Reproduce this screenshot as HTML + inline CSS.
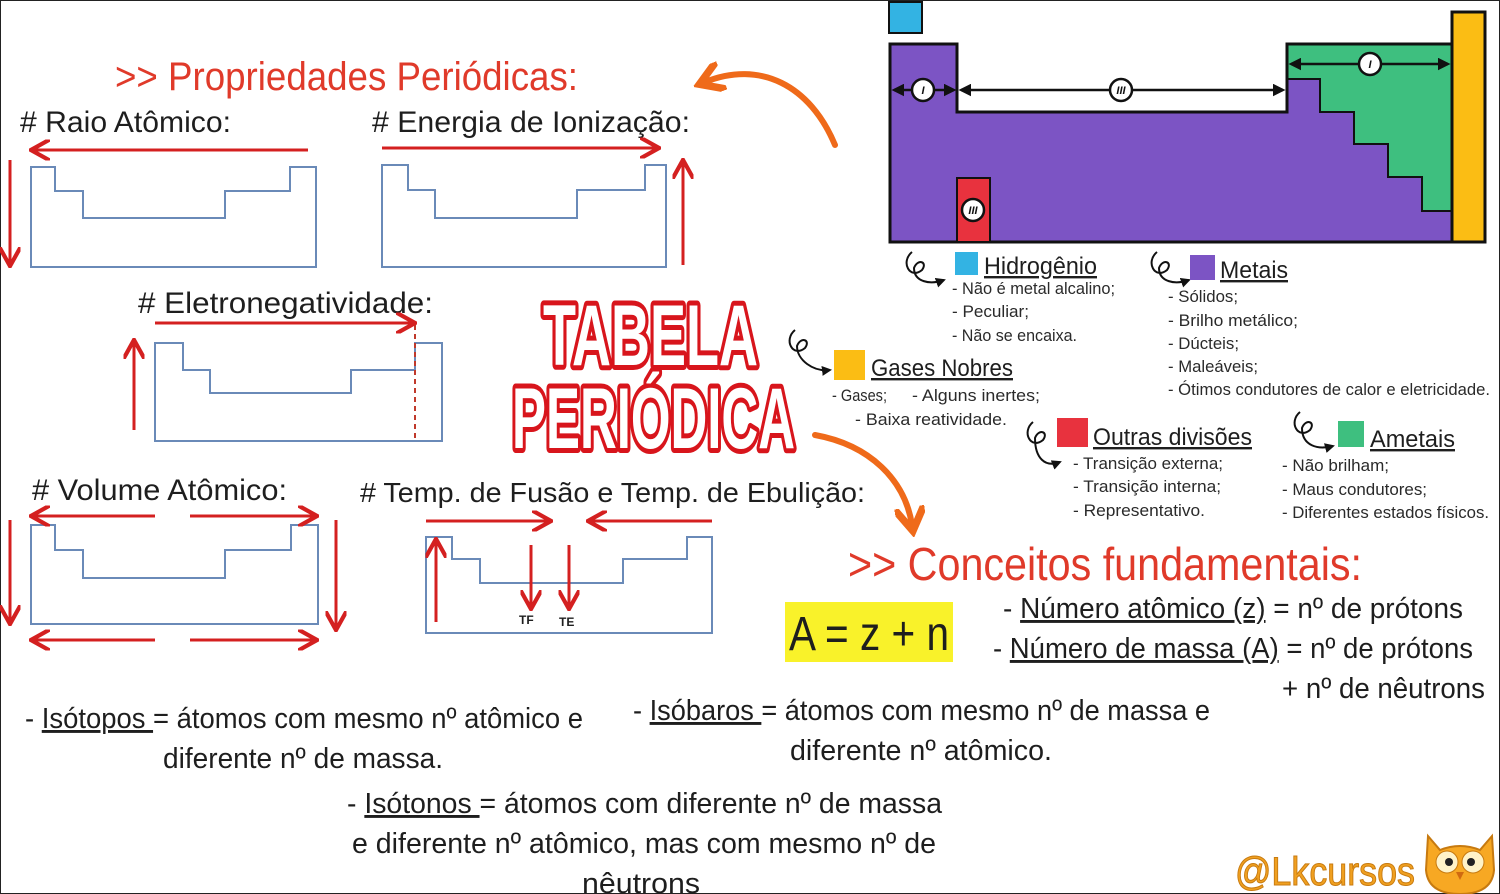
<!DOCTYPE html>
<html><head><meta charset="utf-8"><style>
html,body{margin:0;padding:0;background:#fff}
svg{display:block}
text{font-family:"Liberation Sans",sans-serif}
.t{fill:#1e1e1e}
.r{fill:#e03a2a}
.s{font-size:17px;fill:#2a2a2a}
</style></head><body>
<svg width="1500" height="894" viewBox="0 0 1500 894" xmlns="http://www.w3.org/2000/svg">
<defs>
<marker id="ah" viewBox="0 0 10 10" refX="8" refY="5" markerWidth="7" markerHeight="7" orient="auto-start-reverse"><path d="M0,0 L9,5 L0,10" fill="none" stroke="#d42020" stroke-width="2"/></marker>
<marker id="bh" viewBox="0 0 10 10" refX="8" refY="5" markerWidth="5" markerHeight="5" orient="auto-start-reverse"><path d="M0,0 L10,5 L0,10 Z" fill="#111"/></marker>
<marker id="oh" viewBox="0 0 10 10" refX="6" refY="5" markerWidth="5" markerHeight="5" orient="auto"><path d="M0,0 L8,5 L0,10" fill="none" stroke="#ef6a1a" stroke-width="2.5"/></marker>
</defs>
<rect x="0.5" y="0.5" width="1499" height="893" fill="#fff" stroke="#222" stroke-width="1"/>

<!-- periodic table -->
<rect x="889" y="2" width="33" height="31" fill="#33b3e3" stroke="#111" stroke-width="2"/>
<path d="M890,44 H957 V112 H1287 V44 H1452 V242 H890 Z" fill="#7c54c4" stroke="#111" stroke-width="3"/>
<path d="M1287,44 H1452 V211 H1422 V177 H1388 V144 H1354 V112 H1320 V79 H1287 Z" fill="#3ebf7f"/>
<path d="M1287,79 H1320 V112 H1354 V144 H1388 V177 H1422 V211 H1452" fill="none" stroke="#111" stroke-width="2"/>
<path d="M1287,112 V44 H1452 V242" fill="none" stroke="#111" stroke-width="3"/>
<rect x="1452" y="12" width="33" height="230" fill="#fbbd14" stroke="#111" stroke-width="3"/>
<rect x="957" y="178" width="33" height="64" fill="#e8323e" stroke="#111" stroke-width="2"/>
<line x1="894" y1="90" x2="954" y2="90" stroke="#111" stroke-width="2.5" marker-start="url(#bh)" marker-end="url(#bh)"/>
<line x1="961" y1="90" x2="1283" y2="90" stroke="#111" stroke-width="2.5" marker-start="url(#bh)" marker-end="url(#bh)"/>
<line x1="1291" y1="64" x2="1448" y2="64" stroke="#111" stroke-width="2.5" marker-start="url(#bh)" marker-end="url(#bh)"/>
<g stroke="#111" stroke-width="2.5" fill="#fff">
<circle cx="923" cy="90" r="11"/><circle cx="1121" cy="90" r="11"/><circle cx="1370" cy="64" r="11"/><circle cx="973" cy="210" r="11"/></g>
<g font-size="11" font-style="italic" font-weight="bold" text-anchor="middle" fill="#111">
<text x="923" y="94">I</text><text x="1121" y="94">III</text><text x="1370" y="68">I</text><text x="973" y="214">III</text></g>

<!-- legend curls -->
<g fill="none" stroke="#111" stroke-width="2">
<path d="M912,252 C900,262 910,280 922,270 C928,262 918,258 914,268 C914,282 930,285 944,280" marker-end="url(#bh)"/>
<path d="M1157,252 C1145,262 1155,280 1167,270 C1173,262 1163,258 1159,268 C1159,282 1175,285 1189,280" marker-end="url(#bh)"/>
<path d="M795,330 C783,340 793,358 805,348 C811,340 801,336 797,346 C797,360 813,372 830,370" marker-end="url(#bh)"/>
<path d="M1033,422 C1021,432 1031,450 1043,440 C1049,432 1039,428 1035,438 C1035,458 1045,468 1060,462" marker-end="url(#bh)"/>
<path d="M1300,412 C1288,422 1298,440 1310,430 C1316,422 1306,418 1302,428 C1302,446 1318,450 1333,446" marker-end="url(#bh)"/>
</g>
<rect x="955" y="252" width="23" height="23" fill="#33b3e3"/>
<text x="984" y="274" font-size="24" class="t" textLength="113" lengthAdjust="spacingAndGlyphs" text-decoration="underline">Hidrogênio</text>
<text x="952" y="294" class="s" textLength="163" lengthAdjust="spacingAndGlyphs">- Não é metal alcalino;</text>
<text x="952" y="317" class="s" textLength="77" lengthAdjust="spacingAndGlyphs">- Peculiar;</text>
<text x="952" y="341" class="s" textLength="125" lengthAdjust="spacingAndGlyphs">- Não se encaixa.</text>

<rect x="1190" y="255" width="25" height="25" fill="#7c54c4"/>
<text x="1220" y="278" font-size="24" class="t" textLength="68" lengthAdjust="spacingAndGlyphs" text-decoration="underline">Metais</text>
<text x="1168" y="302" class="s" textLength="70" lengthAdjust="spacingAndGlyphs">- Sólidos;</text>
<text x="1168" y="326" class="s" textLength="130" lengthAdjust="spacingAndGlyphs">- Brilho metálico;</text>
<text x="1168" y="349" class="s" textLength="71" lengthAdjust="spacingAndGlyphs">- Dúcteis;</text>
<text x="1168" y="372" class="s" textLength="90" lengthAdjust="spacingAndGlyphs">- Maleáveis;</text>
<text x="1168" y="395" class="s" textLength="322" lengthAdjust="spacingAndGlyphs">- Ótimos condutores de calor e eletricidade.</text>

<rect x="834" y="350" width="31" height="30" fill="#fbbd14"/>
<text x="871" y="376" font-size="24" class="t" textLength="142" lengthAdjust="spacingAndGlyphs" text-decoration="underline">Gases Nobres</text>
<text x="832" y="401" class="s" textLength="55" lengthAdjust="spacingAndGlyphs">- Gases;</text>
<text x="912" y="401" class="s" textLength="128" lengthAdjust="spacingAndGlyphs">- Alguns inertes;</text>
<text x="855" y="425" class="s" textLength="152" lengthAdjust="spacingAndGlyphs">- Baixa reatividade.</text>

<rect x="1057" y="418" width="31" height="29" fill="#e8323e"/>
<text x="1093" y="445" font-size="24" class="t" textLength="159" lengthAdjust="spacingAndGlyphs" text-decoration="underline">Outras divisões</text>
<text x="1073" y="469" class="s" textLength="150" lengthAdjust="spacingAndGlyphs">- Transição externa;</text>
<text x="1073" y="492" class="s" textLength="148" lengthAdjust="spacingAndGlyphs">- Transição interna;</text>
<text x="1073" y="516" class="s" textLength="132" lengthAdjust="spacingAndGlyphs">- Representativo.</text>

<rect x="1338" y="421" width="26" height="26" fill="#3ebf7f"/>
<text x="1370" y="447" font-size="24" class="t" textLength="85" lengthAdjust="spacingAndGlyphs" text-decoration="underline">Ametais</text>
<text x="1282" y="471" class="s" textLength="107" lengthAdjust="spacingAndGlyphs">- Não brilham;</text>
<text x="1282" y="495" class="s" textLength="145" lengthAdjust="spacingAndGlyphs">- Maus condutores;</text>
<text x="1282" y="518" class="s" textLength="207" lengthAdjust="spacingAndGlyphs">- Diferentes estados físicos.</text>

<!-- headings -->
<text x="115" y="90" font-size="40" class="r" textLength="463" lengthAdjust="spacingAndGlyphs">&gt;&gt; Propriedades Periódicas:</text>
<text x="20" y="132" font-size="30" class="t" textLength="211" lengthAdjust="spacingAndGlyphs"># Raio Atômico:</text>
<text x="372" y="132" font-size="30" class="t" textLength="318" lengthAdjust="spacingAndGlyphs"># Energia de Ionização:</text>
<text x="138" y="313" font-size="30" class="t" textLength="295" lengthAdjust="spacingAndGlyphs"># Eletronegatividade:</text>
<text x="32" y="500" font-size="30" class="t" textLength="255" lengthAdjust="spacingAndGlyphs"># Volume Atômico:</text>
<text x="360" y="502" font-size="28" class="t" textLength="505" lengthAdjust="spacingAndGlyphs"># Temp. de Fusão e Temp. de Ebulição:</text>

<!-- mini tables -->
<g fill="none" stroke="#6a8ab8" stroke-width="2">
<path d="M31,267 V167 H55 V191 H83 V218 H225 V191 H290 V167 H316 V267 Z"/>
<path d="M382,267 V165 H408 V190 H435 V218 H577 V190 H645 V165 H666 V267 Z"/>
<path d="M155,441 V343 H183 V370 H210 V393 H351 V370 H415 V343 H442 V441 Z"/>
<path d="M31,624 V525 H55 V550 H83 V578 H225 V550 H291 V525 H318 V624 Z"/>
<path d="M426,633 V537 H452 V559 H480 V583 H623 V559 H687 V537 H712 V633 Z"/>
</g>
<line x1="415" y1="325" x2="415" y2="441" stroke="#c0392b" stroke-width="2" stroke-dasharray="5,4"/>
<g stroke="#d42020" stroke-width="3" marker-end="url(#ah)">
<line x1="308" y1="150" x2="33" y2="150"/>
<line x1="10" y1="160" x2="10" y2="264"/>
<line x1="382" y1="148" x2="657" y2="148"/>
<line x1="683" y1="265" x2="683" y2="162"/>
<line x1="155" y1="323" x2="413" y2="323"/>
<line x1="134" y1="430" x2="134" y2="342"/>
<line x1="155" y1="516" x2="33" y2="516"/>
<line x1="190" y1="516" x2="315" y2="516"/>
<line x1="155" y1="640" x2="33" y2="640"/>
<line x1="190" y1="640" x2="315" y2="640"/>
<line x1="10" y1="520" x2="10" y2="622"/>
<line x1="336" y1="520" x2="336" y2="628"/>
<line x1="426" y1="521" x2="549" y2="521"/>
<line x1="712" y1="521" x2="590" y2="521"/>
<line x1="436" y1="622" x2="436" y2="541"/>
<line x1="531" y1="545" x2="531" y2="607"/>
<line x1="569" y1="545" x2="569" y2="607"/>
</g>
<text x="519" y="624" font-size="12" font-weight="bold" class="t">TF</text>
<text x="559" y="626" font-size="12" font-weight="bold" class="t">TE</text>

<!-- orange arrows -->
<g fill="none" stroke="#ef6a1a" stroke-width="6" stroke-linecap="round">
<path d="M835,145 C810,85 760,60 705,82" marker-end="url(#oh)"/>
<path d="M815,435 C870,445 905,480 912,525" marker-end="url(#oh)"/>
</g>

<!-- title -->
<g font-weight="bold" fill="#fff" stroke="#d8151c" stroke-width="10" stroke-linejoin="round" style="paint-order:stroke">
<text x="543" y="365" font-size="86" textLength="215" lengthAdjust="spacingAndGlyphs">TABELA</text>
<text x="512" y="448" font-size="86" textLength="283" lengthAdjust="spacingAndGlyphs">PERIÓDICA</text>
</g>

<!-- concepts -->
<text x="848" y="580" font-size="46" class="r" textLength="514" lengthAdjust="spacingAndGlyphs">&gt;&gt; Conceitos fundamentais:</text>
<rect x="785" y="602" width="168" height="60" fill="#f9f22a"/>
<text x="789" y="650" font-size="48" class="t" textLength="160" lengthAdjust="spacingAndGlyphs">A = z + n</text>
<text x="1003" y="618" font-size="29" class="t" textLength="460" lengthAdjust="spacingAndGlyphs">- <tspan text-decoration="underline">Número atômico (z)</tspan> = nº de prótons</text>
<text x="993" y="658" font-size="29" class="t" textLength="480" lengthAdjust="spacingAndGlyphs">- <tspan text-decoration="underline">Número de massa (A)</tspan> = nº de prótons</text>
<text x="1282" y="698" font-size="29" class="t" textLength="203" lengthAdjust="spacingAndGlyphs">+ nº de nêutrons</text>

<text x="25" y="728" font-size="29" class="t" textLength="558" lengthAdjust="spacingAndGlyphs">- <tspan text-decoration="underline">Isótopos </tspan>= átomos com mesmo nº atômico e</text>
<text x="163" y="768" font-size="29" class="t" textLength="280" lengthAdjust="spacingAndGlyphs">diferente nº de massa.</text>
<text x="633" y="720" font-size="29" class="t" textLength="577" lengthAdjust="spacingAndGlyphs">- <tspan text-decoration="underline">Isóbaros </tspan>= átomos com mesmo nº de massa e</text>
<text x="790" y="760" font-size="29" class="t" textLength="262" lengthAdjust="spacingAndGlyphs">diferente nº atômico.</text>
<text x="347" y="813" font-size="29" class="t" textLength="595" lengthAdjust="spacingAndGlyphs">- <tspan text-decoration="underline">Isótonos </tspan>= átomos com diferente nº de massa</text>
<text x="352" y="853" font-size="29" class="t" textLength="584" lengthAdjust="spacingAndGlyphs">e diferente nº atômico, mas com mesmo nº de</text>
<text x="582" y="893" font-size="29" class="t" textLength="118" lengthAdjust="spacingAndGlyphs">nêutrons</text>

<text x="1235" y="885" font-size="40" fill="#f0a020" stroke="#c77a10" stroke-width="1" textLength="180" lengthAdjust="spacingAndGlyphs">@Lkcursos</text>
<!-- owl -->
<g>
<path d="M1428,836 L1440,850 Q1460,842 1480,850 L1492,836 L1494,870 Q1492,894 1460,894 Q1428,894 1426,870 Z" fill="#f7a823" stroke="#c77a10" stroke-width="2"/>
<circle cx="1447" cy="862" r="11" fill="#fff3c8" stroke="#c77a10"/>
<circle cx="1473" cy="862" r="11" fill="#fff3c8" stroke="#c77a10"/>
<circle cx="1449" cy="862" r="4" fill="#222"/><circle cx="1471" cy="862" r="4" fill="#222"/>
<path d="M1456,872 L1460,880 L1464,872 Z" fill="#d06a10"/>
</g>
</svg>
</body></html>
